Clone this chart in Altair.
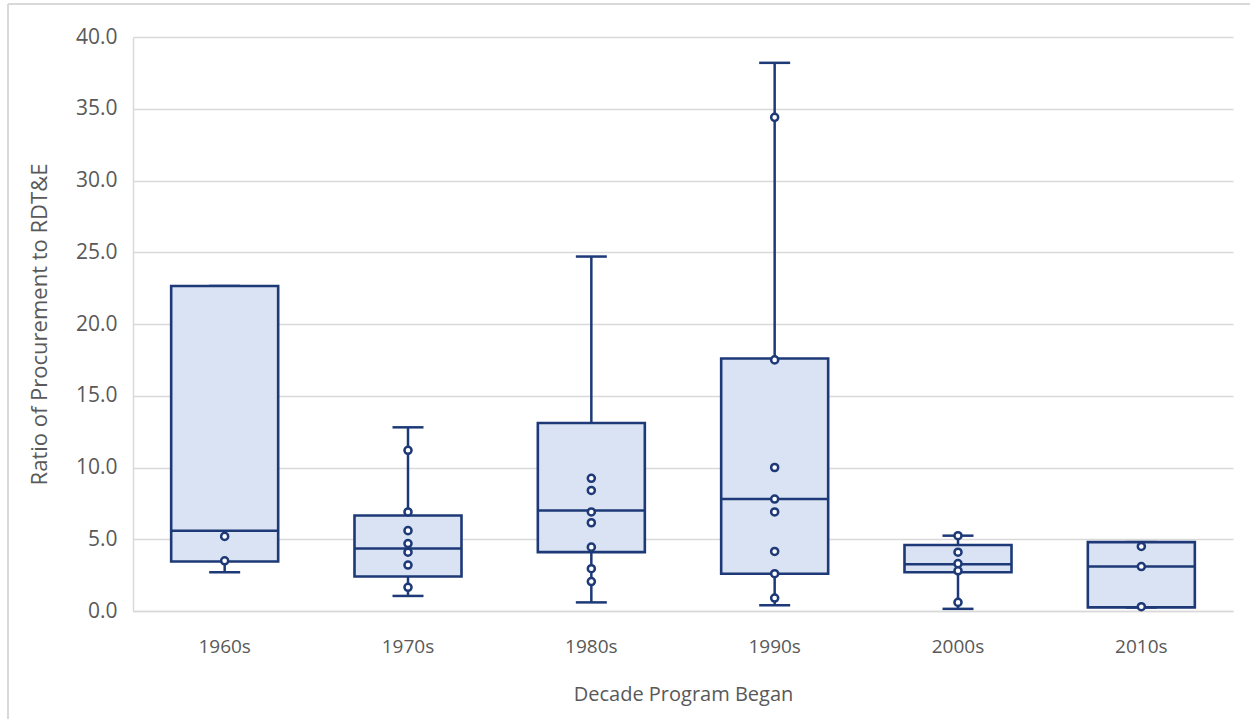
import altair as alt
import pandas as pd

# Summary statistics per decade (box-and-whisker)
decades = ["1960s", "1970s", "1980s", "1990s", "2000s", "2010s"]
whisker_lo = [2.7, 1.05, 0.6, 0.4, 0.15, 0.25]
q1 = [3.45, 2.4, 4.1, 2.6, 2.7, 0.25]
median = [5.6, 4.35, 7.0, 7.8, 3.25, 3.1]
q3 = [22.65, 6.65, 13.1, 17.6, 4.6, 4.8]
whisker_hi = [22.65, 12.8, 24.7, 38.2, 5.25, 4.8]

# Individual program ratios shown as inner points
points_1960s = [5.2, 3.5]
points_1970s = [11.2, 6.9, 5.6, 4.7, 4.1, 3.2, 1.65]
points_1980s = [9.25, 8.4, 6.9, 6.15, 4.45, 2.95, 2.05]
points_1990s = [34.4, 17.5, 10.0, 7.8, 6.9, 4.15, 2.6, 0.9]
points_2000s = [5.25, 4.1, 3.3, 2.8, 0.6]
points_2010s = [4.5, 3.1, 0.3]

NAVY = "#1d3977"
FILL = "#dae3f3"
GRID = "#d9d9d9"
TEXT = "#595959"
FONT = "Open Sans"

stats = pd.DataFrame({
    "decade": decades, "lo": whisker_lo, "q1": q1,
    "median": median, "q3": q3, "hi": whisker_hi,
})
pts = pd.DataFrame(
    [(d, v) for d, vals in zip(decades, [points_1960s, points_1970s, points_1980s,
                                        points_1990s, points_2000s, points_2010s])
     for v in vals],
    columns=["decade", "ratio"],
)

x_enc = alt.X(
    "decade:N", sort=decades,
    scale=alt.Scale(paddingInner=0, paddingOuter=0),
    axis=alt.Axis(title="Decade Program Began", labelAngle=0, ticks=False,
                  domain=True, domainColor=GRID, domainWidth=1.5,
                  labelPadding=26, titlePadding=28,
                  labelFontSize=19, titleFontSize=20,
                  labelColor=TEXT, titleColor=TEXT, titleFontWeight="normal",
                  labelFont=FONT, titleFont=FONT),
)
y_scale = alt.Scale(domain=[0, 40], nice=False)
y_axis = alt.Axis(
    title="Ratio of Procurement to RDT&E", values=list(range(0, 41, 5)),
    format=".1f", ticks=False, domain=True, domainColor=GRID, domainWidth=1.5,
    grid=True, gridColor=GRID, gridWidth=1.5,
    labelPadding=16, titlePadding=24, labelFontSize=21, titleFontSize=22,
    labelColor=TEXT, titleColor=TEXT, titleFontWeight="normal",
    labelFont=FONT, titleFont=FONT,
)

base = alt.Chart(stats)

whisker = base.mark_rule(color=NAVY, strokeWidth=2.5).encode(
    x=x_enc, y=alt.Y("lo:Q", scale=y_scale, axis=y_axis), y2="hi:Q")
cap_lo = base.mark_tick(color=NAVY, size=31, thickness=2.5, opacity=1).encode(
    x=alt.X("decade:N", sort=decades), y="lo:Q")
cap_hi = base.mark_tick(color=NAVY, size=31, thickness=2.5, opacity=1).encode(
    x=alt.X("decade:N", sort=decades), y="hi:Q")
box = base.mark_bar(fill=FILL, stroke=NAVY, strokeWidth=2.6, size=107).encode(
    x=alt.X("decade:N", sort=decades), y="q1:Q", y2="q3:Q")
med = base.mark_tick(color=NAVY, size=107, thickness=2.5, opacity=1).encode(
    x=alt.X("decade:N", sort=decades), y="median:Q")
dots = alt.Chart(pts).mark_point(
    shape="circle", filled=True, fill="white", stroke=NAVY,
    strokeWidth=2.5, size=50, opacity=1).encode(
    x=alt.X("decade:N", sort=decades), y="ratio:Q")

# Outer frame lines around the figure
frame_left = alt.Chart(stats).mark_rule(color=GRID, strokeWidth=2).encode(
    x=alt.value(-125), y=alt.value(-33), y2=alt.value(700))
frame_top = alt.Chart(stats).mark_rule(color=GRID, strokeWidth=2).encode(
    x=alt.value(-125), x2=alt.value(1130), y=alt.value(-33))

chart = alt.layer(
    whisker, cap_lo, cap_hi, box, med, dots, frame_left, frame_top
).properties(
    width=1100, height=574,
    autosize=alt.AutoSizeParams(type="none"),
    padding={"left": 133, "top": 37, "right": 17, "bottom": 108},
    background="white",
).configure_view(stroke=None)

chart.save("out.html", embed_options={"renderer": "svg", "actions": False})
